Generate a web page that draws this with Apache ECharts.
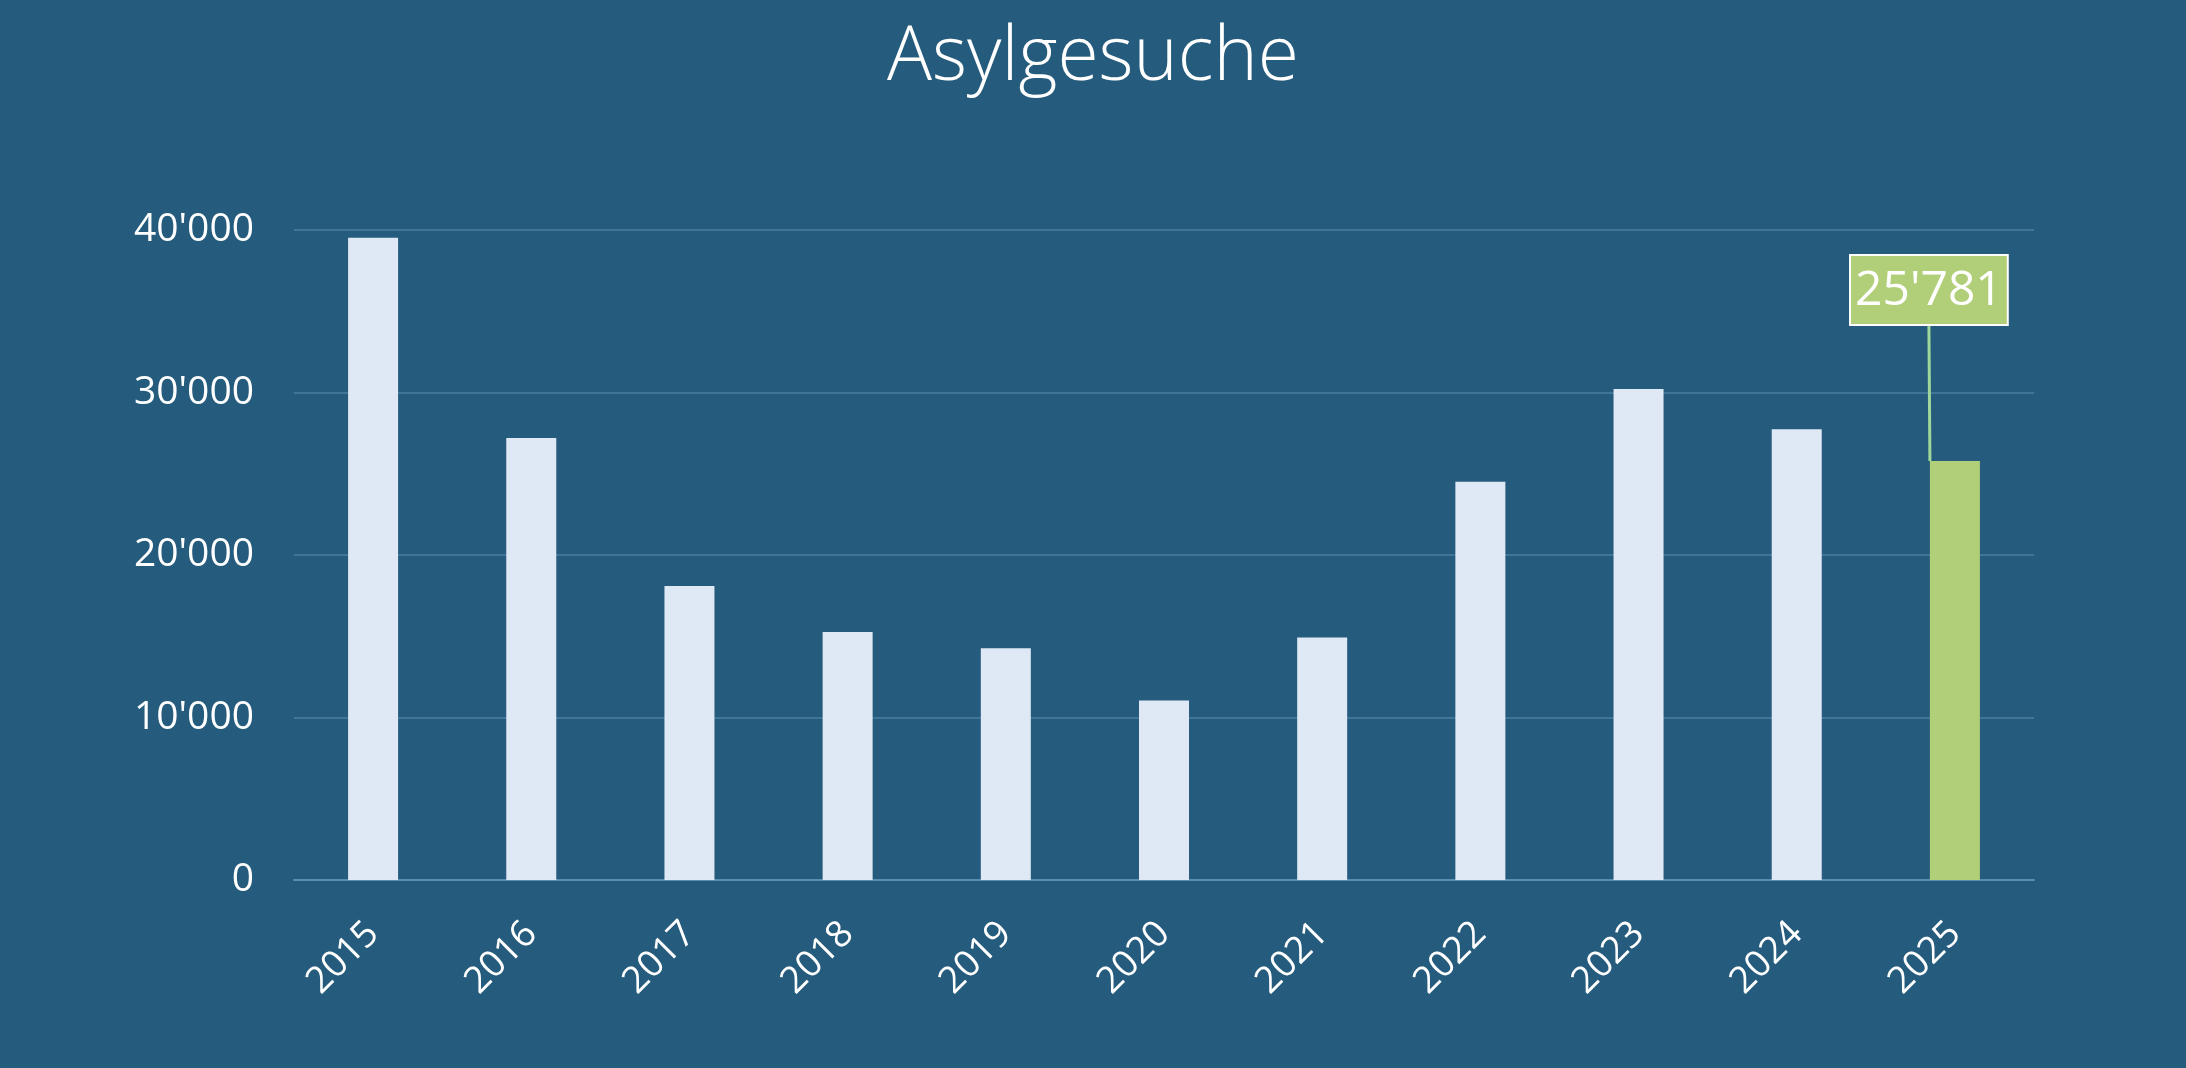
<!DOCTYPE html>
<html>
<head>
<meta charset="utf-8">
<script src="https://cdn.jsdelivr.net/npm/echarts@6/dist/echarts.min.js"></script>
<style>
html,body{margin:0;padding:0;background:#255b7c;}
#chart{width:2186px;height:1068px;}
</style>
</head>
<body>
<div id="chart"></div>
<script>
const titleText = 'Asylgesuche';
const years = ['2015','2016','2017','2018','2019','2020','2021','2022','2023','2024','2025'];
const requests = [39523, 27207, 18088, 15255, 14269, 11041, 14928, 24511, 30223, 27740, 25781];
const highlightYear = '2025';
const yTicks = [0, 10000, 20000, 30000, 40000];

function fmt(v){
  return String(Math.round(v)).replace(/\B(?=(\d{3})+(?!\d))/g, "'");
}

const highlightIndex = years.indexOf(highlightYear);

const seriesData = years.map((y, i) => {
  if (i === highlightIndex) {
    return {
      value: requests[i],
      itemStyle: { color: '#b1cf78' },
      label: {
        show: true,
        position: 'top',
        distance: 5,
        formatter: p => fmt(p.value),
        color: '#ffffff',
        fontFamily: 'Open Sans',
        fontSize: 48,
        lineHeight: 54,
        backgroundColor: '#b1cf78',
        borderColor: '#ffffff',
        borderWidth: 2,
        padding: [8, 4, 6, 4]
      },
      labelLine: { show: true, lineStyle: { color: '#9fd89a', width: 3 } }
    };
  }
  return { value: requests[i] };
});

const chart = echarts.init(document.getElementById('chart'));
chart.setOption({
  backgroundColor: '#255b7c',
  animation: false,
  title: {
    text: titleText,
    left: 'center',
    top: 16,
    textStyle: { color: '#ffffff', fontFamily: 'Open Sans', fontWeight: 300, fontSize: 75 }
  },
  grid: { left: 294, right: 152, top: 230, bottom: 188, containLabel: false },
  xAxis: {
    type: 'category',
    data: years,
    axisLine: { show: true, lineStyle: { color: '#5a8db2', width: 2 } },
    axisTick: { show: false },
    axisLabel: {
      rotate: 45,
      margin: 48,
      color: '#ffffff',
      fontFamily: 'Open Sans',
      fontSize: 37
    }
  },
  yAxis: {
    type: 'value',
    min: 0,
    max: 40000,
    interval: 10000,
    axisLine: { show: false },
    axisTick: { show: false },
    splitLine: { lineStyle: { color: '#4b7ea2', width: 1.5 } },
    axisLabel: {
      color: '#ffffff',
      fontFamily: 'Open Sans',
      fontSize: 39,
      margin: 40,
      formatter: v => yTicks.includes(v) ? fmt(v) : ''
    }
  },
  series: [{
    type: 'bar',
    data: seriesData,
    barWidth: 50,
    itemStyle: { color: '#dfe9f5' },
    labelLine: { show: false, lineStyle: { color: '#9fd89a', width: 3 } },
    labelLayout: function (params) {
      if (params.dataIndex === highlightIndex) {
        return { dx: -26, dy: -132 };
      }
      return {};
    }
  }]
});
</script>
</body>
</html>
